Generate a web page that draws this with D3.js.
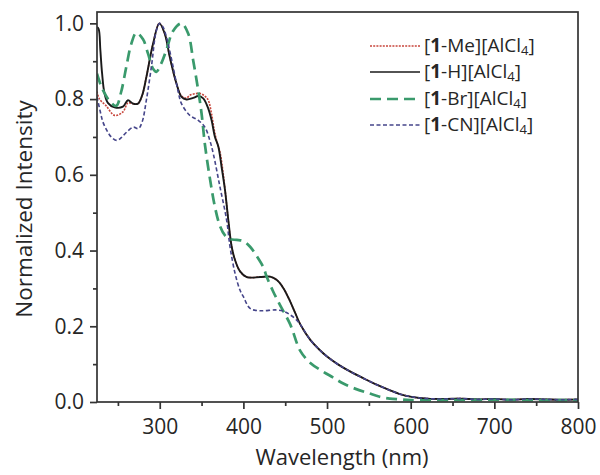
<!DOCTYPE html>
<html><head><meta charset="utf-8">
<script src="https://cdn.jsdelivr.net/npm/d3@7"></script>
<style>
html,body{margin:0;padding:0;background:#fff;}
text{font-family:"Open Sans",sans-serif;fill:#262626;}
</style></head>
<body>
<svg id="chart" width="600" height="475"></svg>
<script>
// ---- data ----
const xTicks = [300, 400, 500, 600, 700, 800];
const xMinorTicks = [250, 350, 450, 550, 650, 750];
const yTicks = [0.0, 0.2, 0.4, 0.6, 0.8, 1.0];
const yMinorTicks = [0.1, 0.3, 0.5, 0.7, 0.9];

const hWl = [225,227,229,231,234,238,246,256,262,268,274,279,284,292,299.5,306,312,320,326,332,340,346,352,358,362,366,370,374,378,382,386,390,396,404,420,432,440,448,456,462,468,480,490,500,514,528,544,560,574,587,603,620,640,660,680,700,720,740,760,780,800];
const hI  = [0.99,0.985,0.93,0.87,0.815,0.79,0.778,0.78,0.797,0.788,0.788,0.81,0.858,0.946,1.0,0.973,0.911,0.841,0.806,0.799,0.803,0.808,0.802,0.775,0.744,0.70,0.675,0.62,0.56,0.48,0.41,0.375,0.345,0.33,0.33,0.331,0.322,0.30,0.265,0.235,0.205,0.164,0.14,0.12,0.098,0.08,0.062,0.045,0.032,0.021,0.013,0.009,0.008,0.009,0.007,0.008,0.006,0.008,0.007,0.006,0.007];

const meWl = [225,228,236,246,256,262,268,274,279,284,292,299.5,306,312,320,326,332,336,342,348,354,358,362,365,368,372,376,380,384,388,396,404,420,432,440,448,456,462,468,480,490,500,514,528,544,560,574,587,603,620,640,660,680,700,720,740,760,780,800];
const meI  = [0.82,0.80,0.782,0.757,0.766,0.79,0.788,0.788,0.81,0.858,0.946,1.0,0.973,0.911,0.841,0.808,0.803,0.81,0.814,0.815,0.808,0.797,0.76,0.72,0.69,0.66,0.60,0.52,0.44,0.39,0.345,0.33,0.33,0.331,0.322,0.30,0.265,0.235,0.205,0.164,0.14,0.12,0.098,0.08,0.062,0.045,0.032,0.021,0.013,0.009,0.008,0.009,0.007,0.008,0.006,0.008,0.007,0.006,0.007];

const brWl = [225,229,233,240,248,254,260,266,272,280,286,292,296,302,308,316,326,334,340,346,350,354,360,366,372,378,384,392,400,408,416,424,428,436,444,456,468,480,494,507,520,535,550,563,575,587,600,650,700,750,800];
const brI  = [0.867,0.84,0.82,0.795,0.782,0.82,0.885,0.946,0.975,0.958,0.92,0.88,0.872,0.895,0.93,0.98,1.0,0.973,0.902,0.823,0.762,0.68,0.59,0.515,0.465,0.44,0.43,0.428,0.425,0.41,0.385,0.355,0.33,0.29,0.255,0.205,0.135,0.103,0.082,0.065,0.048,0.034,0.023,0.014,0.009,0.007,0.005,0.005,0.006,0.005,0.005];

const cnWl = [225,228.6,232,236.6,242,248.5,254,260.5,268.5,274.5,279,284,290,296,300,304,308,316,322,326,336,346,354,360,364,372,380,384,390,396,400,408,420,440,450,456,462,468,480,490,500,514,528,544,560,574,587,603,620,640,660,680,700,720,740,760,780,800];
const cnI  = [0.806,0.77,0.74,0.718,0.70,0.691,0.698,0.713,0.726,0.722,0.74,0.797,0.885,0.981,1.0,0.99,0.964,0.885,0.82,0.788,0.757,0.744,0.726,0.69,0.656,0.568,0.48,0.41,0.34,0.295,0.278,0.247,0.241,0.243,0.238,0.23,0.22,0.205,0.164,0.14,0.12,0.098,0.08,0.062,0.045,0.032,0.021,0.013,0.009,0.008,0.009,0.007,0.008,0.006,0.008,0.007,0.006,0.007];

const seriesNames = ["Me", "H", "Br", "CN"];
const seriesColors = ["#c8463c", "#1a1a1a", "#3a9a6c", "#45458a"];

// ---- layout ----
const svg = d3.select("#chart");
const L = 97, R = 578, T = 12, B = 402;
const x = d3.scaleLinear().domain([225, 800]).range([L, R]);
const y = d3.scaleLinear().domain([0, 1.03]).range([B, T]);

const styles = [
  {w: 1.6, dash: "2,1.2"},
  {w: 1.9, dash: null},
  {w: 2.7, dash: "11,6"},
  {w: 1.6, dash: "4,2.5"}
];
const data = [
  d3.zip(meWl, meI), d3.zip(hWl, hI), d3.zip(brWl, brI), d3.zip(cnWl, cnI)
];

const line = d3.line().x(d => x(d[0])).y(d => y(d[1])).curve(d3.curveCatmullRom.alpha(0.5));

svg.append("defs").append("clipPath").attr("id","clip")
  .append("rect").attr("x", L).attr("y", T).attr("width", R-L).attr("height", B-T);

const plot = svg.append("g").attr("clip-path","url(#clip)");
data.forEach((d, i) => {
  plot.append("path").datum(d)
    .attr("d", line)
    .attr("fill", "none")
    .attr("stroke", seriesColors[i])
    .attr("stroke-width", styles[i].w)
    .attr("stroke-dasharray", styles[i].dash)
    .attr("stroke-linejoin", "round");
});

// frame
svg.append("rect").attr("x", L).attr("y", T).attr("width", R-L).attr("height", B-T)
  .attr("fill","none").attr("stroke","#333").attr("stroke-width",1.7);

// axes
const xAxis = svg.append("g").attr("transform", `translate(0,${B})`)
  .call(d3.axisBottom(x).tickValues(xTicks).tickSize(7).tickPadding(10).tickFormat(d3.format("d")));
const xMinor = svg.append("g").attr("transform", `translate(0,${B})`)
  .call(d3.axisBottom(x).tickValues(xMinorTicks).tickSize(4).tickFormat(""));
const yAxis = svg.append("g").attr("transform", `translate(${L},0)`)
  .call(d3.axisLeft(y).tickValues(yTicks).tickSize(7).tickPadding(6).tickFormat(d3.format(".1f")));
const yMinor = svg.append("g").attr("transform", `translate(${L},0)`)
  .call(d3.axisLeft(y).tickValues(yMinorTicks).tickSize(4).tickFormat(""));
[xAxis, xMinor, yAxis, yMinor].forEach(g => {
  g.select(".domain").remove();
  g.selectAll(".tick line").attr("stroke","#333").attr("stroke-width",1.7);
  g.selectAll(".tick text").attr("font-size", 21).attr("fill","#262626").attr("font-family","Open Sans, sans-serif");
});

// axis titles
svg.append("text").attr("x", 342).attr("y", 465).attr("text-anchor","middle")
  .attr("font-size", 22).text("Wavelength (nm)");
svg.append("text").attr("transform","translate(32,209) rotate(-90)").attr("text-anchor","middle")
  .attr("font-size", 22.5).text("Normalized Intensity");

// legend
const legRows = [46, 72, 99, 125];
seriesNames.forEach((name, i) => {
  const ly = legRows[i];
  svg.append("line").attr("x1", 370).attr("x2", 420).attr("y1", ly).attr("y2", ly)
    .attr("stroke", seriesColors[i]).attr("stroke-width", i === 2 ? 2.7 : 1.6)
    .attr("stroke-dasharray", styles[i].dash);
  const t = svg.append("text").attr("x", 424).attr("y", ly + 6).attr("font-size", 19);
  t.append("tspan").text("[");
  t.append("tspan").attr("font-weight","bold").text("1");
  t.append("tspan").text("-" + name + "][AlCl");
  t.append("tspan").attr("font-size", 13).attr("dy", 3).text("4");
  t.append("tspan").attr("dy", -3).text("]");
});
</script>
</body></html>
